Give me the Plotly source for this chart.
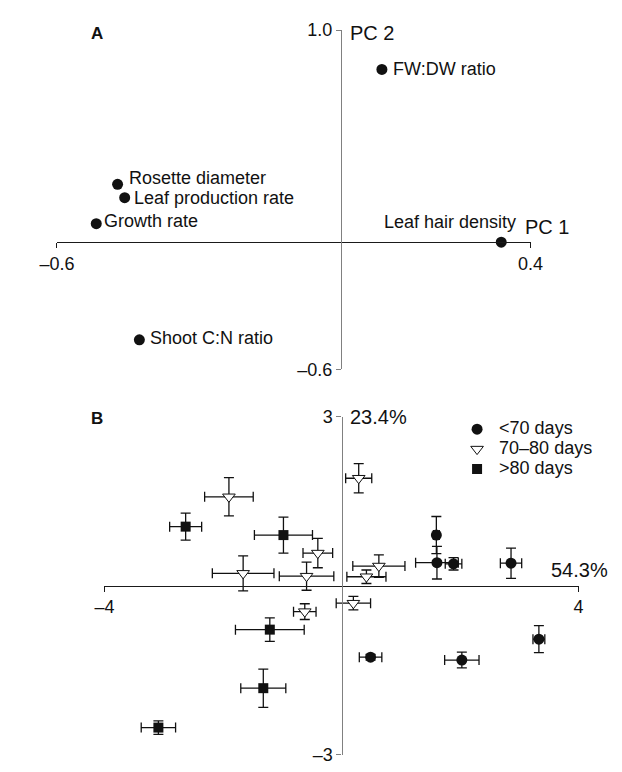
import plotly.graph_objects as go

W, H = 622, 772

# ---------------- Panel A data (loadings) ----------------
a_labels = ["FW:DW ratio", "Rosette diameter", "Leaf production rate",
            "Growth rate", "Leaf hair density", "Shoot C:N ratio"]
a_pc1 = [0.086, -0.472, -0.457, -0.517, 0.338, -0.426]
a_pc2 = [0.815, 0.273, 0.210, 0.087, 0.0, -0.461]
a_xticks = [-0.6, 0.4]
a_xticktext = ["\u20130.6", "0.4"]
a_yticks = [-0.6, 1.0]
a_yticktext = ["\u20130.6", "1.0"]

# ---------------- Panel B data (scores, mean ± SE) ----------------
lt70_x = [1.60, 1.61, 1.89, 2.86, 3.33, 0.49, 2.03]
lt70_y = [0.90, 0.41, 0.39, 0.40, -0.95, -1.27, -1.32]
lt70_ex = [0.05, 0.36, 0.14, 0.18, 0.10, 0.19, 0.29]
lt70_ey = [0.33, 0.29, 0.11, 0.27, 0.24, 0.05, 0.14]

mid_x = [-1.90, 0.29, -0.40, -1.66, -0.59, 0.63, 0.42, 0.20, -0.62]
mid_y = [1.58, 1.91, 0.58, 0.22, 0.17, 0.35, 0.16, -0.31, -0.46]
mid_ex = [0.41, 0.22, 0.25, 0.52, 0.46, 0.44, 0.33, 0.29, 0.19]
mid_ey = [0.34, 0.26, 0.26, 0.31, 0.25, 0.20, 0.12, 0.12, 0.14]

gt80_x = [-2.63, -0.98, -1.21, -1.32, -3.09]
gt80_y = [1.05, 0.90, -0.78, -1.82, -2.52]
gt80_ex = [0.27, 0.49, 0.58, 0.38, 0.29]
gt80_ey = [0.24, 0.32, 0.21, 0.34, 0.12]

legend_names = ["<70 days", "70\u201380 days", ">80 days"]

b_xticks = [-4, 4]
b_xticktext = ["\u20134", "4"]
b_yticks = [-3, 3]
b_yticktext = ["\u20133", "3"]

FONT = "Liberation Sans, Arial, sans-serif"
VCOL = "#808080"
HCOL = "#1a1a1a"
INK = "#111111"

A_XR = [-0.6, 0.4]
A_YR = [-0.6, 1.0]
B_XR = [-4, 4]
B_YR = [-3, 3]

# subplot frames in pixels (left, right, top, bottom)
A_BOX = (41, 539.5, 20.7, 368.9)
B_BOX = (91, 590, 417.7, 764.4)


def px(x):
    return x / W


def py(y):
    return 1 - y / H


def xdom(box):
    return [px(box[0]), px(box[1])]


def ydom(box):
    return [py(box[3]), py(box[2])]


def zero_frac(dom, rng):
    return dom[0] + (0 - rng[0]) / (rng[1] - rng[0]) * (dom[1] - dom[0])


fig = go.Figure()

fig.add_trace(go.Scatter(
    x=a_pc1, y=a_pc2, mode="markers", xaxis="x", yaxis="y",
    marker=dict(color=INK, size=11, symbol="circle"),
    showlegend=False, cliponaxis=False, hoverinfo="skip"))

err_style = dict(type="data", color=INK, thickness=1.3, width=5)


def lg(name):
    esc = name.replace("<", "&lt;").replace(">", "&gt;")
    return '<span style="font-size:18px">' + esc + "</span>"


fig.add_trace(go.Scatter(
    x=lt70_x, y=lt70_y, mode="markers", xaxis="x2", yaxis="y2",
    name=lg(legend_names[0]),
    marker=dict(color=INK, size=11, symbol="circle"),
    error_x=dict(array=lt70_ex, **err_style),
    error_y=dict(array=lt70_ey, **err_style),
    cliponaxis=False))
fig.add_trace(go.Scatter(
    x=mid_x, y=mid_y, mode="markers", xaxis="x2", yaxis="y2",
    name=lg(legend_names[1]),
    marker=dict(color="white", size=11, symbol="triangle-down",
                line=dict(color=INK, width=1)),
    error_x=dict(array=mid_ex, **err_style),
    error_y=dict(array=mid_ey, **err_style),
    cliponaxis=False))
fig.add_trace(go.Scatter(
    x=gt80_x, y=gt80_y, mode="markers", xaxis="x2", yaxis="y2",
    name=lg(legend_names[2]),
    marker=dict(color=INK, size=10, symbol="square"),
    error_x=dict(array=gt80_ex, **err_style),
    error_y=dict(array=gt80_ey, **err_style),
    cliponaxis=False))

tickfont = dict(family=FONT, size=18, color=INK)
common = dict(showgrid=False, zeroline=False, showline=True, linewidth=1.3,
              ticks="outside", ticklen=5, tickwidth=1.2, tickfont=tickfont)

fig.update_layout(
    width=W, height=H,
    margin=dict(l=0, r=0, t=0, b=0),
    paper_bgcolor="white", plot_bgcolor="white",
    font=dict(family=FONT, size=18, color=INK),
    xaxis=dict(domain=xdom(A_BOX), range=A_XR, anchor="free",
               position=zero_frac(ydom(A_BOX), A_YR),
               linecolor=HCOL, tickcolor=HCOL,
               tickvals=a_xticks, ticktext=a_xticktext, **common),
    yaxis=dict(domain=ydom(A_BOX), range=A_YR, anchor="free",
               position=zero_frac(xdom(A_BOX), A_XR),
               linecolor=VCOL, tickcolor=VCOL,
               tickvals=a_yticks, ticktext=a_yticktext, **common),
    xaxis2=dict(domain=xdom(B_BOX), range=B_XR, anchor="free",
                position=zero_frac(ydom(B_BOX), B_YR),
                linecolor=HCOL, tickcolor=HCOL,
                tickvals=b_xticks, ticktext=b_xticktext, **common),
    yaxis2=dict(domain=ydom(B_BOX), range=B_YR, anchor="free",
                position=zero_frac(xdom(B_BOX), B_XR),
                linecolor=VCOL, tickcolor=VCOL,
                tickvals=b_yticks, ticktext=b_yticktext, **common),
    legend=dict(x=px(460), y=py(415), xanchor="left", yanchor="top",
                bgcolor="rgba(0,0,0,0)", font=dict(family=FONT, size=13),
                tracegroupgap=0, itemwidth=34),
    showlegend=True,
)

# label offsets (pixels, relative to the marker centre)
a_shift = {
    "FW:DW ratio": dict(xanchor="left", xshift=9, yshift=0),
    "Rosette diameter": dict(xanchor="left", xshift=9, yshift=6),
    "Leaf production rate": dict(xanchor="left", xshift=7, yshift=0),
    "Growth rate": dict(xanchor="left", xshift=6, yshift=3),
    "Leaf hair density": dict(xanchor="right", xshift=17, yshift=20),
    "Shoot C:N ratio": dict(xanchor="left", xshift=9, yshift=2),
}
for lab, xv, yv in zip(a_labels, a_pc1, a_pc2):
    s = a_shift[lab]
    fig.add_annotation(x=xv, y=yv, xref="x", yref="y", text=lab,
                       showarrow=False, yanchor="middle",
                       font=dict(family=FONT, size=18, color=INK), **s)

big = dict(family=FONT, size=20, color=INK)
fig.add_annotation(x=A_XR[1], y=0, xref="x", yref="y", text="PC 1",
                   showarrow=False, xanchor="left", yanchor="middle",
                   xshift=-8, yshift=15, font=big)
fig.add_annotation(x=0, y=A_YR[1], xref="x", yref="y", text="PC 2",
                   showarrow=False, xanchor="left", yanchor="middle",
                   xshift=7, yshift=-3, font=big)
fig.add_annotation(x=0, y=B_YR[1], xref="x2", yref="y2", text="23.4%",
                   showarrow=False, xanchor="left", yanchor="middle",
                   xshift=6, yshift=0, font=big)
fig.add_annotation(x=B_XR[1], y=0, xref="x2", yref="y2", text="54.3%",
                   showarrow=False, xanchor="left", yanchor="middle",
                   xshift=-30, yshift=16, font=big)

fig.add_annotation(x=px(75), y=py(24), xref="paper", yref="paper", text="<b>A</b>",
                   showarrow=False, xanchor="left", yanchor="middle",
                   font=dict(family=FONT, size=17, color=INK))
fig.add_annotation(x=px(75), y=py(419), xref="paper", yref="paper", text="<b>B</b>",
                   showarrow=False, xanchor="left", yanchor="middle",
                   font=dict(family=FONT, size=17, color=INK))

fig.write_html("out.html", config={"displayModeBar": False},
               post_script="document.body.style.margin='0';")
